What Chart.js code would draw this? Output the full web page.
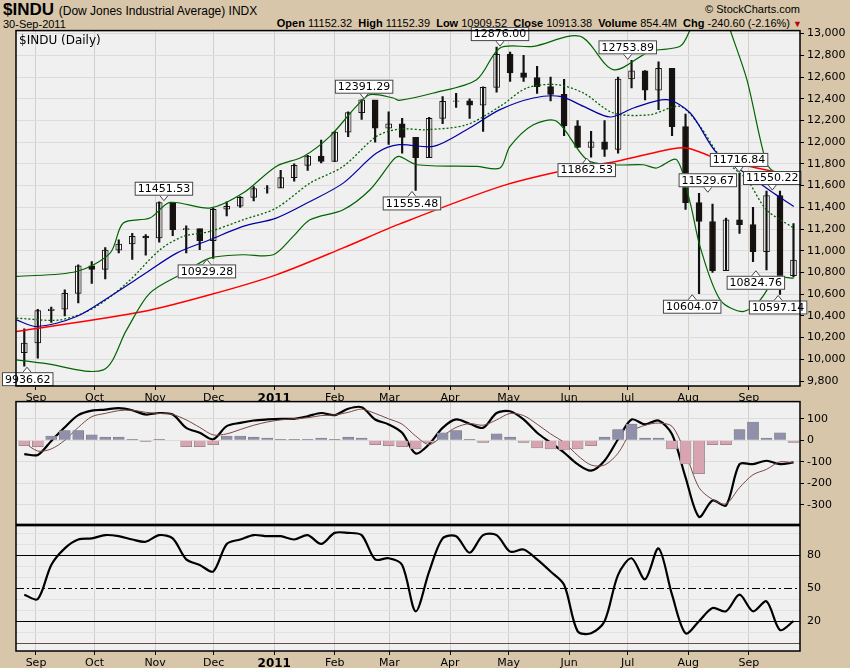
<!DOCTYPE html>
<html>
<head>
<meta charset="utf-8">
<script src="https://cdn.jsdelivr.net/npm/chart.js@4.4.0/dist/chart.umd.min.js"></script>
<style>
  body { margin:0; background:#d7c6aa; width:850px; height:668px; overflow:hidden; position:relative; font-family:"Liberation Sans", Arial, sans-serif; }
  canvas { position:absolute; left:0; }
  .t { position:absolute; white-space:nowrap; color:#000; }
  b { font-weight:bold; }
</style>
</head>
<body>
<div class="t" style="left:3px;top:0px;font-size:17px;"><b>$INDU</b> <span style="font-size:12px">(Dow Jones Industrial Average) INDX</span></div>
<div class="t" style="left:3px;top:18px;font-size:11px;">30-Sep-2011</div>
<div class="t" style="right:50px;top:3px;font-size:11px;">&copy; StockCharts.com</div>
<div class="t" style="right:48px;top:17px;font-size:11px;"><b>Open</b> 11152.32 &nbsp;<b>High</b> 11152.39 &nbsp;<b>Low</b> 10909.52 &nbsp;<b>Close</b> 10913.38 &nbsp;<b>Volume</b> 854.4M &nbsp;<b>Chg</b> -240.60 (-2.16%) <span style="color:#c00000;font-size:9px">&#9660;</span></div>
<canvas id="c1" width="850" height="382" style="top:21px"></canvas>
<canvas id="c2" width="850" height="142" style="top:392px"></canvas>
<canvas id="c3" width="850" height="152" style="top:516px"></canvas>
<div class="t" style="left:19px;top:33px;font-size:12px;font-family:'DejaVu Sans';">$INDU (Daily)</div>
<script>
// weekly bars, Aug 27 2010 .. Sep 30 2011
var weekLows = [9936,10010,10340,10400,10520,10700,10740,10980,10920,10960,11080,11140,10980,11010,10929,11320,11400,11460,11530,11580,11640,11740,11810,11820,12050,12210,12000,11980,11900,11555,11860,12170,12320,12220,12100,12460,12560,12560,12450,12380,12060,11950,11862,11870,11900,12500,12390,12300,12060,11380,10604,10800,10820,11160,10900,10824,10597,10760];
var weekHighs = [10280,10460,10480,10640,10870,10900,11030,11100,11160,11150,11451,11420,11230,11200,11390,11450,11500,11590,11600,11740,11800,11880,12020,12100,12280,12391,12300,12280,12220,12000,12230,12420,12450,12400,12510,12876,12830,12800,12700,12600,12580,12200,12100,12200,12600,12753,12660,12740,12660,12260,11530,11430,11300,11716,11400,11550,11550,11250];
var weekCloses = [10150,10448,10462,10607,10860,10829,11006,11062,11133,11118,11444,11193,11204,11092,11382,11410,11491,11573,11577,11674,11787,11871,11823,12092,12273,12391,12130,12169,12044,11858,12220,12376,12380,12342,12505,12810,12638,12596,12512,12441,12151,11952,12004,11934,12582,12657,12479,12681,12143,11444,11269,10817,11285,11240,10992,11509,10771,10913];
var firstOpen = 10060;

// overlays: [day since 1-Sep-2010, value]
var bbUpper = [[-10,10763],[20.8,10809],[37.9,10978],[44.7,11255],[58.3,11301],[68.6,11445],[89,11393],[106,11531],[123,11777],[136.9,11869],[150.5,12054],[164,12330],[171,12438],[183,12407],[186,12385],[203.5,12453],[225.6,12576],[237.6,12868],[254.7,12883],[278.6,12976],[295.6,12668],[314.4,12837],[329.8,12883],[335,13037],[342,13300],[350,13350],[355.4,13037],[364,12576],[374,11808],[379,11716],[388,11685]];
var bbLower = [[-10,9995],[3.7,9964],[34.5,9903],[46.4,10271],[58.3,10609],[75.4,10794],[89,10932],[106,10963],[121.5,10963],[131.7,11132],[140.3,11285],[157.3,11378],[171,11562],[183,11839],[186,11869],[195,11792],[225.6,11777],[237.6,11762],[242.7,11961],[254.7,12161],[266.6,12192],[282,11839],[295.6,11792],[311,11792],[317.8,11762],[328,11839],[335,11439],[340,11040],[350.3,10548],[362,10440],[370.8,10548],[379,10748],[388,10748]];
var sma50 = [[-10,10363],[0.3,10302],[20.8,10394],[37.9,10579],[54.9,10778],[72,10978],[89,11101],[106,11224],[123,11301],[140.3,11454],[157.3,11623],[174.4,11900],[186,11977],[203.5,11961],[220.5,12115],[237.6,12300],[254.7,12407],[268.4,12422],[280.3,12330],[294,12232],[306,12315],[323,12392],[335,12269],[348.6,11900],[365.6,11685],[377.6,11531],[388,11408]];
var ema20 = [[-10,10379],[12.3,10363],[29.4,10471],[46.4,10701],[63.5,11009],[75.4,11132],[89,11178],[106,11285],[123,11393],[140.3,11623],[157.3,11777],[174.4,12054],[186,12121],[200,12115],[220.5,12161],[237.6,12330],[251.3,12499],[266.6,12530],[280.3,12453],[295.6,12269],[314.4,12253],[329.8,12330],[340,12146],[350.3,11869],[364,11654],[374,11378],[388,11209]];
var sma200 = [[-10,10256],[54.9,10440],[89,10594],[123,10778],[157,11024],[186,11245],[238,11593],[272,11746],[297,11823],[326,11940],[334,11945],[348,11854],[362,11790],[388,11694]];

var peakLabels = [[-4.6,9936.62,'below'],[65.5,11451.53,'above'],[87.5,10929.28,'below'],[168,12391.29,'above'],[192.5,11555.48,'below'],[237.6,12876.00,'above'],[282,11862.53,'below'],[303,12753.89,'above'],[336,10604.07,'below'],[344,11529.67,'above'],[360,11716.84,'above'],[368.6,10824.76,'below'],[377,11550.22,'above'],[380,10597.14,'below']];

var macdLine = [-64,-68,-3,61,117,138,143,150,140,120,127,120,58,35,5,66,81,92,97,100,100,112,127,117,147,154,97,74,35,-61,-18,58,97,77,58,127,135,97,35,-11,-57,-111,-141,-95,5,97,74,92,28,-172,-356,-280,-303,-111,-111,-95,-111,-103];
var macdSignal = [-10,-50,-40,0,60,110,125,138,140,130,125,120,95,60,25,30,50,70,85,95,100,105,115,118,130,145,125,100,75,20,-20,20,60,78,70,95,125,115,75,30,-10,-70,-115,-115,-60,40,70,80,65,-60,-220,-275,-295,-220,-160,-135,-100,-105];
var macdHist = [-25,-30,20,45,45,25,15,15,5,-5,5,0,-30,-30,-20,20,20,15,10,5,5,5,10,5,15,10,-20,-25,-30,-40,-10,35,45,5,-10,30,15,-10,-35,-40,-45,-40,-25,15,50,75,10,10,-40,-110,-155,-20,-20,50,85,10,35,-10];
var rsiLine = [44,40,71,86,94,95,98,97,94,92,98,95,76,71,65,90,94,98,97,97,94,98,90,100,100,98,76,77,71,29,65,95,97,82,98,98,83,85,76,65,53,11,9,20,62,77,58,86,44,9,20,32,29,44,29,38,12,20];

var monthDays = [0,30,61,91,122,153,181,212,242,273,303,334,365];
var monthNames = ['Sep','Oct','Nov','Dec','2011','Feb','Mar','Apr','May','Jun','Jul','Aug','Sep'];
var priceTicks = [9800,10000,10200,10400,10600,10800,11000,11200,11400,11600,11800,12000,12200,12400,12600,12800,13000];

var X_MIN = -10.24, X_MAX = 391.2;
function weekDay(i) { return -6 + i * 6.91; }
function pts(arr) { return arr.map(function (p) { return {x: p[0], y: p[1]}; }); }
function weekly(arr) { return arr.map(function (v, i) { return {x: weekDay(i), y: v}; }); }

var FONT = {family: 'DejaVu Sans', size: 11};

function xScale(show) {
  return {
    type: 'linear', min: X_MIN, max: X_MAX, display: true, offset: false,
    afterBuildTicks: function (s) { s.ticks = monthDays.map(function (v) { return {value: v}; }); },
    afterFit: function (s) { s.height = show ? 17 : 0; },
    ticks: {
      display: show, color: '#000', padding: 2, maxRotation: 0, autoSkip: false,
      font: function (c) { return {family: 'DejaVu Sans', size: c.tick && c.tick.value === 122 ? 12 : 11, weight: c.tick && c.tick.value === 122 ? 'bold' : 'normal'}; },
      callback: function (v) { return monthNames[monthDays.indexOf(v)]; }
    },
    grid: {color: '#d4d0c8', drawTicks: show, tickLength: 4, tickColor: '#000', offset: false},
    border: {display: false}
  };
}
function yScale(min, max, ticks, grid) {
  return {
    type: 'linear', position: 'right', min: min, max: max,
    afterBuildTicks: function (s) { s.ticks = ticks.map(function (v) { return {value: v}; }); },
    afterFit: function (s) { s.width = 50; },
    ticks: {color: '#000', font: FONT, padding: 3},
    grid: {display: grid, color: '#dcdcdc', tickLength: 4, tickColor: '#000'},
    border: {display: false}
  };
}

var panel = {
  id: 'panel',
  beforeDraw: function (chart) {
    var a = chart.chartArea, ctx = chart.ctx;
    ctx.save(); ctx.fillStyle = '#f0f0f0'; ctx.fillRect(a.left, a.top, a.right - a.left, a.bottom - a.top); ctx.restore();
  },
  afterDraw: function (chart) {
    var a = chart.chartArea, ctx = chart.ctx;
    ctx.save(); ctx.strokeStyle = '#000'; ctx.lineWidth = 1.5;
    ctx.strokeRect(a.left, a.top, a.right - a.left, a.bottom - a.top); ctx.restore();
  }
};

var peaks = {
  id: 'peaks',
  afterDatasetsDraw: function (chart) {
    var ctx = chart.ctx, xs = chart.scales.x, ys = chart.scales.y;
    ctx.save();
    ctx.font = '11px "DejaVu Sans"';
    ctx.textAlign = 'center'; ctx.textBaseline = 'middle';
    peakLabels.forEach(function (p) {
      var px = xs.getPixelForValue(p[0]), py = ys.getPixelForValue(p[1]);
      var txt = p[1].toFixed(2), w = ctx.measureText(txt).width + 6, h = 14;
      var cx = Math.max(px, w / 2 + 2);
      var up = p[2] === 'above';
      var by = up ? py - 6 - h : py + 6;
      ctx.strokeStyle = '#444'; ctx.fillStyle = '#fff'; ctx.lineWidth = 1;
      ctx.fillRect(cx - w / 2, by, w, h); ctx.strokeRect(cx - w / 2 + 0.5, by + 0.5, w - 1, h - 1);
      ctx.beginPath();
      if (up) { ctx.moveTo(px - 4, by + h); ctx.lineTo(px, py - 1); ctx.lineTo(px + 4, by + h); }
      else { ctx.moveTo(px - 4, by); ctx.lineTo(px, py + 1); ctx.lineTo(px + 4, by); }
      ctx.fill(); ctx.stroke();
      ctx.fillStyle = '#000'; ctx.fillText(txt, cx, by + h / 2 + 0.5);
    });
    ctx.restore();
  }
};

var rsiLevels = {
  id: 'rsiLevels',
  beforeDatasetsDraw: function (chart) {
    var ctx = chart.ctx, a = chart.chartArea, ys = chart.scales.y;
    function hl(v, color, dash, w) {
      var y = Math.round(ys.getPixelForValue(v)) + 0.5;
      ctx.beginPath(); ctx.setLineDash(dash); ctx.strokeStyle = color; ctx.lineWidth = w;
      ctx.moveTo(a.left, y); ctx.lineTo(a.right, y); ctx.stroke();
    }
    ctx.save();
    [10, 30, 40, 60, 70, 90, 100].forEach(function (v) { hl(v, '#e2e2e2', [], 1); });
    hl(80, '#000', [], 1.2); hl(20, '#000', [], 1.2);
    hl(50, '#000', [8, 3, 2, 3], 1); hl(0, '#6b4a4a', [], 1.2);
    ctx.restore();
  }
};

var common = {responsive: false, animation: false, devicePixelRatio: 1,
  layout: {padding: {left: 16, right: 0, top: 0, bottom: 0}, autoPadding: false},
  plugins: {legend: {display: false}, tooltip: {enabled: false}}};

function lineDs(data, color, width, dash) {
  return {type: 'line', data: data, borderColor: color, borderWidth: width, borderDash: dash || [], pointRadius: 0, tension: 0.3, fill: false};
}

// price panel
var opens = weekCloses.map(function (c, i) { return i === 0 ? firstOpen : weekCloses[i - 1]; });
new Chart(document.getElementById('c1'), {
  type: 'bar',
  data: {datasets: [
    lineDs(pts(bbUpper), '#006400', 1.2),
    lineDs(pts(bbLower), '#006400', 1.2),
    lineDs(pts(sma200), '#ff0000', 1.5),
    lineDs(pts(sma50), '#0000a0', 1.2),
    lineDs(pts(ema20), '#006400', 1.3, [2, 2]),
    {data: weekLows.map(function (l, i) { return {x: weekDay(i), y: [l, weekHighs[i]]}; }), backgroundColor: '#111', barThickness: 1.5, grouped: false},
    {data: weekCloses.map(function (c, i) { return {x: weekDay(i), y: [opens[i], c]}; }),
     backgroundColor: weekCloses.map(function (c, i) { return c >= opens[i] ? '#ffffff' : '#1a1410'; }),
     borderColor: '#1a1410', borderWidth: 1, borderSkipped: false, barThickness: 6, grouped: false}
  ]},
  options: Object.assign({}, common, {scales: {x: xScale(true), y: yScale(9754, 13028, priceTicks, true)}}),
  plugins: [panel, peaks]
});

// MACD panel
new Chart(document.getElementById('c2'), {
  type: 'bar',
  data: {datasets: [
    {data: weekly(macdHist), backgroundColor: macdHist.map(function (v) { return v >= 0 ? '#9090aa' : '#d8a4b2'; }),
     borderColor: '#707070', borderWidth: 0.5, barThickness: 11, grouped: false},
    lineDs(weekly(macdSignal), '#7a4848', 1),
    lineDs(weekly(macdLine), '#000', 2.2)
  ]},
  options: Object.assign({}, common, {scales: {x: xScale(false), y: yScale(-391, 180, [100, 0, -100, -200, -300], true)}}),
  plugins: [panel]
});

// RSI-style panel
new Chart(document.getElementById('c3'), {
  type: 'line',
  data: {datasets: [lineDs(weekly(rsiLine), '#000', 2.2)]},
  options: Object.assign({}, common, {scales: {x: xScale(true), y: yScale(-7, 106.6, [80, 50, 20], false)}}),
  plugins: [panel, rsiLevels]
});
</script>
</body>
</html>
